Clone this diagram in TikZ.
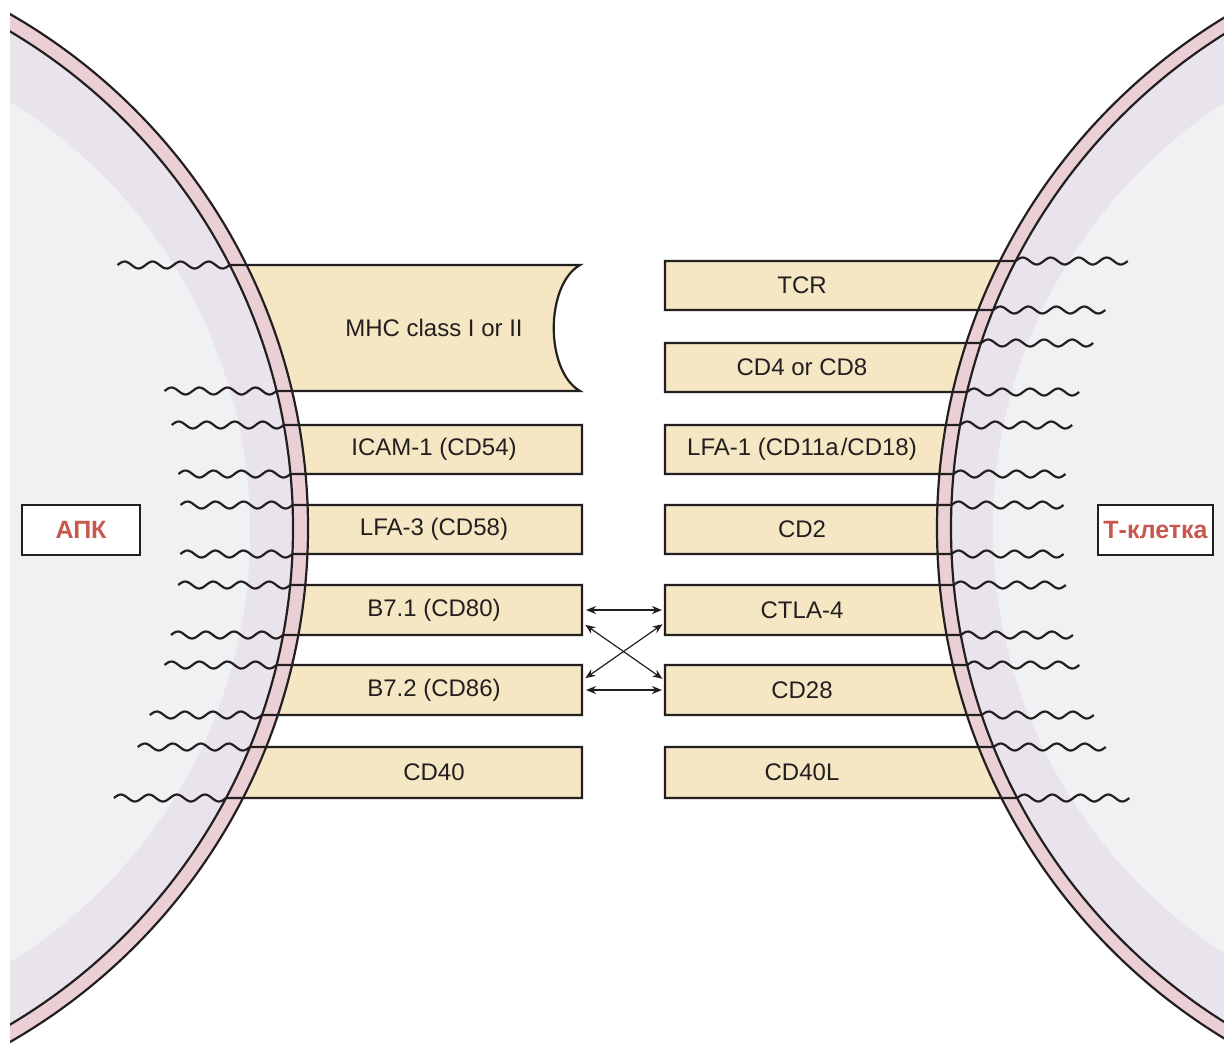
\documentclass[tikz,border=0pt]{standalone}
\usepackage{fontspec}
\setmainfont{Liberation Sans}
\usetikzlibrary{arrows.meta,calc}
\definecolor{ink}{RGB}{35,31,32}
\definecolor{boxfill}{RGB}{245,231,196}
\definecolor{band}{RGB}{233,228,236}
\definecolor{core}{RGB}{240,241,243}
\definecolor{memb}{RGB}{234,208,213}
\definecolor{cellred}{RGB}{200,88,78}

\begin{document}
\begin{tikzpicture}[x=0.5pt,y=-0.5pt,
  outline/.style={draw=ink,line width=1.1pt,line join=miter},
  membline/.style={draw=ink,line width=1.1pt},
  molecule/.style={inner sep=0pt,outer sep=0pt,minimum height=24.5pt,
    font=\fontsize{12}{14}\selectfont,text=ink},
  celltag/.style={draw=ink,fill=white,line width=1.2pt,inner sep=0pt,
    minimum height=25pt,font=\fontsize{12.5}{15}\selectfont\bfseries,text=cellred},
  link/.style={draw=ink,line width=0.6pt,
    {Stealth[length=5pt,width=4pt]}-{Stealth[length=5pt,width=4pt]},
    shorten <=2pt,shorten >=1.5pt}
]
\useasboundingbox (0,0) rectangle (1224,1046);
\fill[white] (0,0) rectangle (1224,1046);

% ---- extracellular parts of the molecules (fills) ----
\fill[boxfill] (120,265) -- (580,265) .. controls (545,285) and (545,371) .. (580,391)
  -- (120,391) -- cycle;
\foreach \t/\b in {425/474,505/554,585/635,665/715,747/798}
  \fill[boxfill] (120,\t) rectangle (582,\b);
\foreach \t/\b in {261/310,343/392,425/474,505/554,585/635,665/715,747/798}
  \fill[boxfill] (665,\t) rectangle (1120,\b);

% ---- antigen-presenting cell (left) ----
\begin{scope}
  \clip (10,0) rectangle (1224,1046);
  \fill[band] (-284,528) circle[radius=296pt];
  \fill[core] (-255,532) circle[radius=252.5pt];
  \fill[memb,even odd rule] (-284,528) circle[radius=296pt] (-284,528) circle[radius=288.5pt];
  \draw[membline] (-284,528) circle[radius=296pt];
  \draw[membline] (-284,528) circle[radius=288.5pt];
\end{scope}

% ---- T cell (right) ----
\begin{scope}
  \clip (0,0) rectangle (1224,1046);
  \fill[band] (1534,528) circle[radius=298.5pt];
  \fill[core] (1499,528) circle[radius=253pt];
  \fill[memb,even odd rule] (1534,528) circle[radius=298.5pt] (1534,528) circle[radius=291.5pt];
  \draw[membline] (1534,528) circle[radius=298.5pt];
  \draw[membline] (1534,528) circle[radius=291.5pt];
\end{scope}

% ---- outlines with wavy cytoplasmic tails, APC side ----
\pgfmathsetmacro\xt{100*(-2.84+sqrt(5.77*5.77-((265-528)/100)*((265-528)/100)))}
\pgfmathsetmacro\xb{100*(-2.84+sqrt(5.77*5.77-((391-528)/100)*((391-528)/100)))}
\draw[outline] plot[domain=-112:0,samples=60] ({\xt+\x},{265-3.5*sin((\x/28)*360)})
  -- (580,265) .. controls (545,285) and (545,371) .. (580,391) -- (\xb,391)
  -- plot[domain=0:-112,samples=60] ({\xb+\x},{391-3.5*sin((\x/28)*360)});
\foreach \t/\b/\r in {425/474/582,505/554/582,585/635/582,665/715/582,747/798/582}{
  \pgfmathsetmacro\xt{100*(-2.84+sqrt(5.77*5.77-((\t-528)/100)*((\t-528)/100)))}
  \pgfmathsetmacro\xb{100*(-2.84+sqrt(5.77*5.77-((\b-528)/100)*((\b-528)/100)))}
  \draw[outline] plot[domain=-112:0,samples=60] ({\xt+\x},{\t-3.5*sin((\x/28)*360)})
    -- (\r,\t) -- (\r,\b) -- (\xb,\b)
    -- plot[domain=0:-112,samples=60] ({\xb+\x},{\b-3.5*sin((\x/28)*360)});
}

% ---- outlines with wavy cytoplasmic tails, T-cell side ----
\foreach \t/\b in {261/310,343/392,425/474,505/554,585/635,665/715,747/798}{
  \pgfmathsetmacro\xt{100*(15.34-sqrt(5.83*5.83-((\t-528)/100)*((\t-528)/100)))}
  \pgfmathsetmacro\xb{100*(15.34-sqrt(5.83*5.83-((\b-528)/100)*((\b-528)/100)))}
  \draw[outline] plot[domain=112:0,samples=60] ({\xt+\x},{\t-3.5*sin((\x/28)*360)})
    -- (665,\t) -- (665,\b) -- (\xb,\b)
    -- plot[domain=0:112,samples=60] ({\xb+\x},{\b-3.5*sin((\x/28)*360)});
}

% ---- molecule labels, APC side ----
\begin{scope}[every node/.style={molecule,minimum width=148pt}]
  \node (mhc)  at (434,328)   {MHC class I or II};
  \node (icam) at (434,449.5) {ICAM-1 (CD54)};
  \node (lfa3) at (434,529.5) {LFA-3 (CD58)};
  \node (b71)  at (434,610)   {B7.1 (CD80)};
  \node (b72)  at (434,690)   {B7.2 (CD86)};
  \node (cd40) at (434,772.5) {CD40};
\end{scope}

% ---- molecule labels, T-cell side ----
\begin{scope}[every node/.style={molecule,minimum width=137pt}]
  \node (tcr)   at (802,285.5) {TCR};
  \node (cd48)  at (802,367.5) {CD4 or CD8};
  \node (lfa1)  at (802,449.5) {LFA-1 (CD11a\kern1pt/CD18)};
  \node (cd2)   at (802,529.5) {CD2};
  \node (ctla4) at (802,610)   {CTLA-4};
  \node (cd28)  at (802,690)   {CD28};
  \node (cd40l) at (802,772.5) {CD40L};
\end{scope}

% ---- B7 / CTLA-4 / CD28 interactions ----
\draw[link] (b71.east) -- (ctla4.west);
\draw[link] (b72.east) -- (cd28.west);
\draw[link] ([yshift=6pt]b71.south east) -- ([yshift=-7.5pt]cd28.north west);
\draw[link] ([yshift=-7.5pt]b72.north east) -- ([yshift=6pt]ctla4.south west);

% ---- cell names ----
\node[celltag,minimum width=59pt]   (apc)   at (81,530)     {АПК};
\node[celltag,minimum width=57.5pt] (tcell) at (1155.5,530) {Т-клетка};
\end{tikzpicture}
\end{document}
